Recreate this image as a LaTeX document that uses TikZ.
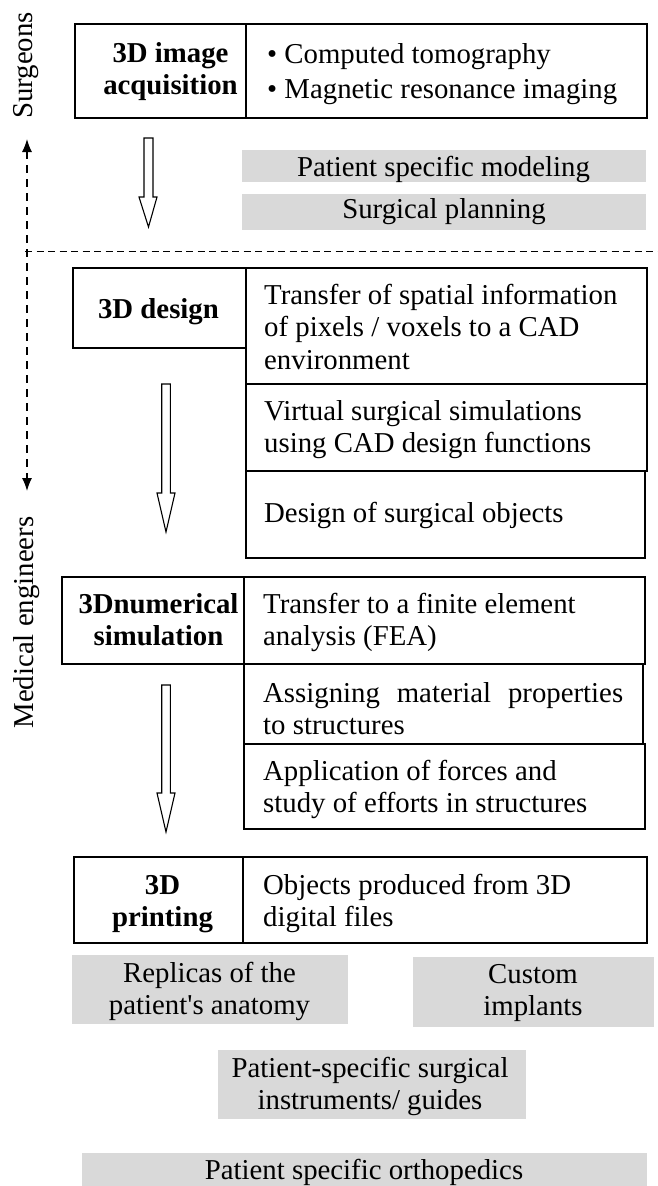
\documentclass[tikz,border=0pt]{standalone}
\usepackage{fontspec}
\setmainfont{Liberation Serif}
\usetikzlibrary{arrows.meta,fit}
\definecolor{graybox}{HTML}{D9D9D9}
\newcommand\lefttab[1]{\begin{tabular}[t]{@{}l@{}}#1\end{tabular}}
\newcommand\centtab[1]{\begin{tabular}[t]{@{}c@{}}#1\end{tabular}}
\begin{document}
\begin{tikzpicture}[x=1pt,y=-1pt,
  frame/.style={draw=black, line width=1.2pt, inner sep=0pt},
  shade/.style={fill=graybox, inner sep=0pt},
  txt/.style={inner sep=0pt, font=\fontsize{28.8}{32.8}\selectfont},
  btxt/.style={inner sep=0pt, font=\fontsize{28.8}{32.8}\selectfont\bfseries},
  blockarrow/.style={draw=black, fill=white, line width=1.1pt, line join=miter},
  dashv/.style={line width=1.3pt, dash pattern=on 8pt off 6pt},
  dashh/.style={line width=1pt, dash pattern=on 7pt off 4.5pt}]
\useasboundingbox (0,0) rectangle (658,1186);
\fill[white] (0,0) rectangle (658,1186);

% stage 1
\node[frame, fit={(75,24) (246,118)}] (b1l) {};
\node[frame, fit={(246,24) (647,118)}] (b1r) {};
\node[btxt, anchor=base] (t1l) at (170.5,62) {\centtab{3D image\\acquisition}};
\node[txt, anchor=base west] (t1r) at (267,63) {\lefttab{• Computed tomography\\[2.2pt]• Magnetic resonance imaging}};

\node[shade, fit={(242,150) (646,182)}] (g1) {};
\node[shade, fit={(242,194) (646,230)}] (g2) {};
\node[txt, anchor=base] (tg1) at (443.5,176) {Patient specific modeling};
\node[txt, anchor=base] (tg2) at (444,218) {Surgical planning};

% stage 2
\node[frame, fit={(73,268) (246,348)}] (b2l) {};
\node[frame, fit={(246,268) (647,384)}] (b2a) {};
\node[frame, fit={(246,384) (647,471)}] (b2b) {};
\node[frame, fit={(246,471) (645,558)}] (b2c) {};
\node[btxt, anchor=base] (t2l) at (158.5,318) {3D design};
\node[txt, anchor=base west] (t2a) at (264,304) {\lefttab{Transfer of spatial information\\of pixels / voxels to a CAD\\environment}};
\node[txt, anchor=base west] (t2b) at (264,420) {\lefttab{Virtual surgical simulations\\using CAD design functions}};
\node[txt, anchor=base west] (t2c) at (264,522) {Design of surgical objects};

% stage 3
\node[frame, fit={(62,577) (244,664)}] (b3l) {};
\node[frame, fit={(244,577) (645,664)}] (b3a) {};
\node[frame, fit={(244,664) (643,744)}] (b3b) {};
\node[frame, fit={(244,744) (645,829)}] (b3c) {};
\node[btxt, anchor=base] (t3l) at (158.5,613) {\centtab{3Dnumerical\\simulation}};
\node[txt, anchor=base west] (t3a) at (263,613) {\lefttab{Transfer to a finite element\\analysis (FEA)}};
\node[txt, anchor=base west] (t3b) at (263,702) {\lefttab{\makebox[360pt][s]{Assigning material properties}\\to structures}};
\node[txt, anchor=base west] (t3c) at (263,780) {\lefttab{Application of forces and\\study of efforts in structures}};

% stage 4
\node[frame, fit={(74,857) (243,943)}] (b4l) {};
\node[frame, fit={(243,857) (647,943)}] (b4r) {};
\node[btxt, anchor=base] (t4l) at (162.5,894) {\centtab{3D\\printing}};
\node[txt, anchor=base west] (t4r) at (263,894) {\lefttab{Objects produced from 3D\\digital files}};

% outputs
\node[shade, fit={(72,955) (348,1024)}] (g3) {};
\node[shade, fit={(413,957) (654,1027)}] (g4) {};
\node[shade, fit={(218,1050) (526,1119)}] (g5) {};
\node[shade, fit={(82,1153) (647,1186)}] (g6) {};
\node[txt, anchor=base] (tg3) at (209.5,982) {\centtab{Replicas of the\\patient\textquotesingle s anatomy}};
\node[txt, anchor=base] (tg4) at (533,983) {\centtab{Custom\\implants}};
\node[txt, anchor=base] (tg5) at (370,1077) {\centtab{Patient-specific surgical\\instruments/ guides}};
\node[txt, anchor=base] (tg6) at (364,1179) {Patient specific orthopedics};

% block arrows
\draw[blockarrow] (144,138) -- (153,138) -- (153,197) -- (157,197) -- (148.5,227) -- (139,197) -- (144,197) -- cycle;
\draw[blockarrow] (161.7,384) -- (170.3,384) -- (170.3,493) -- (175,493) -- (166,532) -- (157,493) -- (161.7,493) -- cycle;
\draw[blockarrow] (161.7,685) -- (170.3,685) -- (170.3,793) -- (175,793) -- (166,832) -- (157,793) -- (161.7,793) -- cycle;

% side labels and separators
\node[txt, rotate=90] (surg) at (26,65.5) {Surgeons};
\node[txt, rotate=90] (meng) at (27,622.5) {Medical engineers};
\coordinate (dtop) at (27,139);
\coordinate (dbot) at (27,491);
\draw[dashv, {Latex[length=13pt,width=10pt]}-{Latex[length=13pt,width=10pt]}] (dtop) -- (dbot);
\coordinate (hl) at (25,251);
\coordinate (hr) at (658,251);
\draw[dashh] (hl) -- (hr);
\end{tikzpicture}
\end{document}
